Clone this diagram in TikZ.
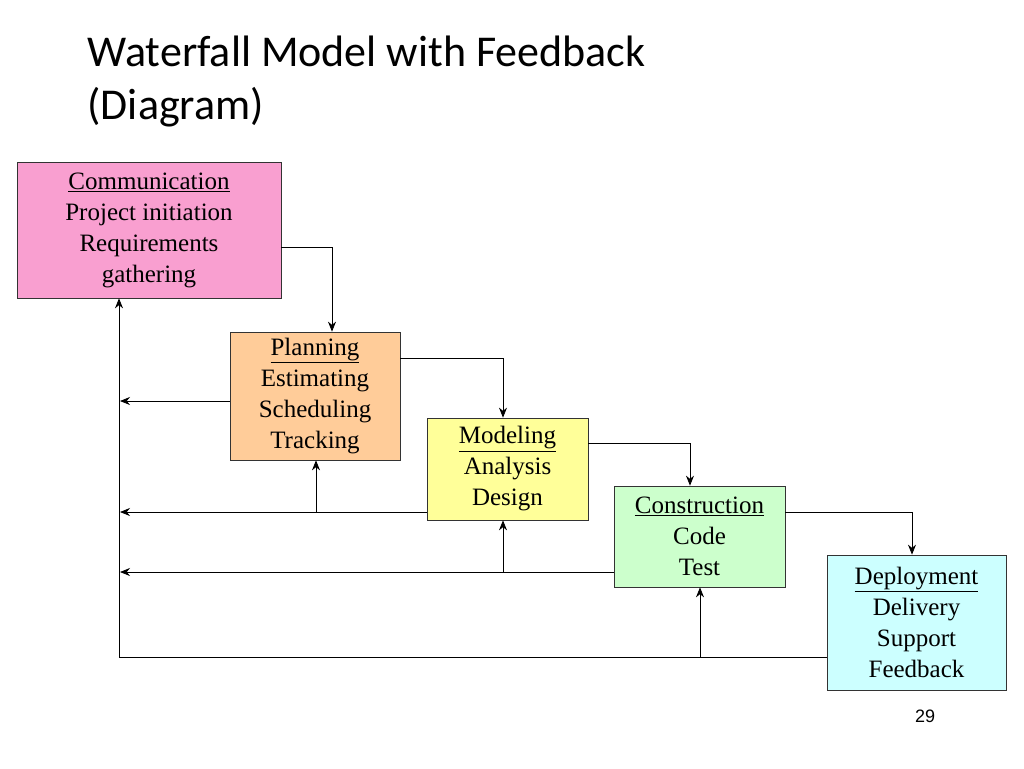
\documentclass[tikz,border=0pt]{standalone}
\usepackage{fontspec}
\setmainfont{Liberation Serif}
\newfontfamily\titlefont{Carlito}
\newfontfamily\numfont{Liberation Sans}
\usetikzlibrary{arrows.meta}
\definecolor{cpink}{HTML}{F99FD0}
\definecolor{corange}{HTML}{FFCC99}
\definecolor{cyellow}{HTML}{FFFF99}
\definecolor{cgreen}{HTML}{CCFFCC}
\definecolor{ccyan}{HTML}{CCFFFF}
\begin{document}
\begin{tikzpicture}[x=1pt,y=-1pt,
  box/.style={draw=black!80,line width=0.7pt,align=center,inner sep=0pt,
    font=\fontsize{25}{31}\selectfont},
  arr/.style={-{Stealth[length=10pt,width=8pt]},line width=0.8pt},
  ln/.style={line width=0.8pt}]
\useasboundingbox (0,0) rectangle (1024,768);
\node[anchor=west,align=left,font=\titlefont\fontsize{44}{53}\selectfont] (title) at (84,82) {Waterfall Model with Feedback\\(Diagram)};
\node[font=\numfont\fontsize{18}{20}\selectfont] (num) at (925,716) {29};
\node[box,fill=cpink,minimum width=264pt,minimum height=136pt] (com) at (149,230) {\underline{Communication}\\Project initiation\\Requirements\\gathering};
\node[box,fill=corange,minimum width=170pt,minimum height=128pt] (pla) at (315,396) {\underline{Planning}\\Estimating\\Scheduling\\Tracking};
\node[box,fill=cyellow,minimum width=161pt,minimum height=102pt] (mod) at (507.5,469) {\underline{Modeling}\\Analysis\\Design};
\node[box,fill=cgreen,minimum width=171pt,minimum height=101pt] (con) at (699.5,536.5) {\underline{Construction}\\Code\\Test};
\node[box,fill=ccyan,minimum width=179pt,minimum height=135pt] (dep) at (916.5,622.5) {\underline{Deployment}\\Delivery\\Support\\Feedback};
% forward
\draw[arr] (com.east |- 0,247) -| (pla.north -| 332,0);
\draw[arr] (pla.east |- 0,358) -| (mod.north -| 503,0);
\draw[arr] (mod.east |- 0,443) -| (con.north -| 690,0);
\draw[arr] (con.east |- 0,512) -| (dep.north -| 912,0);
% feedback
\coordinate (f1) at (119,657);
\coordinate (f2) at (700,657);
\draw[ln] (dep.west |- f1) -- (f1);
\draw[arr] (f1) -- (com.south -| f1);
\draw[arr] (f2) -- (con.south -| f2);
\coordinate (g1) at (503,572);
\draw[arr] (con.west |- g1) -- (120,572);
\draw[arr] (g1) -- (mod.south -| g1);
\coordinate (h1) at (316,512);
\draw[arr] (mod.west |- h1) -- (120,512);
\draw[arr] (h1) -- (pla.south -| h1);
\draw[arr] (pla.west |- 0,401) -- (120,401);
\end{tikzpicture}
\end{document}
